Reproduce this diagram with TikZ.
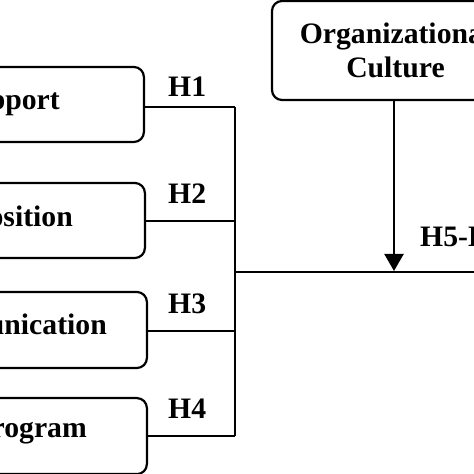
\documentclass[tikz,border=0pt]{standalone}
\usepackage{fontspec}
\setmainfont{Liberation Serif}
\usetikzlibrary{arrows.meta}
\tikzset{
  box/.style={draw=black, line width=2.2pt, rounded corners=10pt, inner sep=0pt},
  lbl/.style={font=\bfseries\fontsize{29.7}{34}\selectfont, inner sep=0pt},
  conn/.style={draw=black, line width=2.2pt},
}
\begin{document}
\begin{tikzpicture}[x=1pt,y=1pt]
\useasboundingbox (0,0) rectangle (474,474);
\clip (0,0) rectangle (474,474);
\fill[white] (0,0) rectangle (474,474);
% left boxes
\node[box, minimum width=280pt, minimum height=75pt, anchor=east] (b1) at (145,369.5) {};
\node[box, minimum width=280pt, minimum height=75pt, anchor=east] (b2) at (146,253.5) {};
\node[box, minimum width=280pt, minimum height=76pt, anchor=east] (b3) at (148,144) {};
\node[box, minimum width=280pt, minimum height=76pt, anchor=north east] (b4) at (148,77) {};
\node[lbl, anchor=base east] (t1) at (60,364) {Support};
\node[lbl, anchor=base east] (t2) at (73,247) {Disposition};
\node[lbl, anchor=base east] (t3) at (107,139) {Communication};
\node[lbl, anchor=base east] (t4) at (87,36) {Program};
% organizational culture box
\node[box, minimum width=247pt, minimum height=99pt, lbl, align=center] (oc) at (395.5,423.5) {Organizational\\Culture};
% junction coordinates
\coordinate (j1) at (235,367);
\coordinate (j2) at (235,253);
\coordinate (j3) at (235,143);
\coordinate (j4) at (235,38);
\coordinate (jm) at (235,202);
\coordinate (jr) at (480,202);
\coordinate (ja) at (394,202);
\draw[conn] (b1.east |- j1) -- (j1);
\draw[conn] (b2.east |- j2) -- (j2);
\draw[conn] (b3.east |- j3) -- (j3);
\draw[conn] (b4.east |- j4) -- (j4);
\draw[conn] (j1) -- (j4);
\draw[conn] (jm) -- (jr);
\draw[conn, -{Triangle[width=19pt,length=17pt]}] (oc.south -| ja) -- ([yshift=1pt]ja);
% hypothesis labels
\node[lbl, anchor=base west] (h1) at (168,377) {H1};
\node[lbl, anchor=base west] (h2) at (168,270) {H2};
\node[lbl, anchor=base west] (h3) at (168,160) {H3};
\node[lbl, anchor=base west] (h4) at (168,55) {H4};
\node[lbl, anchor=base west] (h5) at (420,227) {H5-H8};
\end{tikzpicture}
\end{document}
